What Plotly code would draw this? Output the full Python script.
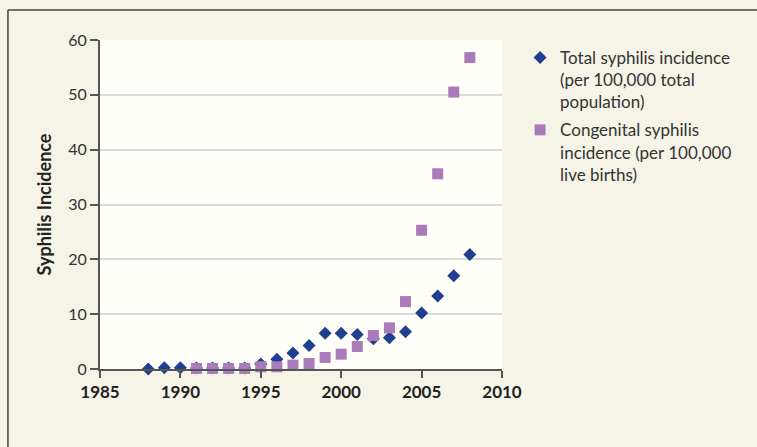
import plotly.graph_objects as go

years_total = list(range(1988, 2009))
total = [0.0, 0.25, 0.25, 0.2, 0.2, 0.2, 0.2, 0.9, 1.8, 2.9, 4.3, 6.5, 6.5, 6.3, 5.5, 5.7, 6.8, 10.2, 13.3, 17.0, 20.9]
years_cong = list(range(1991, 2009))
congenital = [0.1, 0.1, 0.1, 0.1, 0.4, 0.4, 0.7, 1.0, 2.1, 2.7, 4.1, 6.1, 7.5, 12.3, 25.3, 35.6, 50.5, 56.8]

x_ticks = [1985, 1990, 1995, 2000, 2005, 2010]
y_ticks = [0, 10, 20, 30, 40, 50, 60]

font_family = "Lato, Open Sans, sans-serif"

fig = go.Figure()
fig.add_trace(go.Scatter(
    x=years_total, y=total, mode="markers",
    name="Total syphilis incidence<br>(per 100,000 total<br>population)",
    legendgroup="a",
    marker=dict(symbol="diamond", size=10, color="#1f3f8f", line=dict(width=0)),
    cliponaxis=False,
))
fig.add_trace(go.Scatter(
    x=years_cong, y=congenital, mode="markers",
    name="Congenital syphilis<br>incidence (per 100,000<br>live births)",
    legendgroup="b",
    marker=dict(symbol="square", size=11, color="#a97bb8", line=dict(width=0)),
    cliponaxis=False,
))

fig.update_layout(
    width=757, height=447,
    margin=dict(l=100, r=255, t=40, b=78),
    paper_bgcolor="#f6f3e7",
    plot_bgcolor="#fffef9",
    font=dict(family=font_family, size=16, color="#333333"),
    showlegend=True,
    legend=dict(
        x=1.045, y=1.0, xanchor="left", yanchor="top",
        bgcolor="rgba(0,0,0,0)",
        font=dict(size=17, color="#333333"),
        tracegroupgap=3,
        valign="top",
        itemwidth=30,
    ),
    xaxis=dict(
        range=[1985, 2010], tickvals=x_ticks,
        showgrid=False, zeroline=False,
        showline=True, linecolor="#555555", linewidth=2,
        ticks="outside", ticklen=7, tickcolor="#555555", tickwidth=1.5,
        tickfont=dict(family=font_family, size=17, color="#222222", weight="bold"),
    ),
    yaxis=dict(
        range=[0, 60], tickvals=y_ticks,
        showgrid=True, gridcolor="#dadada", gridwidth=2,
        zeroline=False,
        showline=True, linecolor="#555555", linewidth=2,
        ticks="outside", ticklen=8, tickcolor="#555555", tickwidth=1.5,
        tickfont=dict(family=font_family, size=16, color="#333333"),
        title=dict(text="Syphilis Incidence", font=dict(size=18, color="#222222", weight="bold"), standoff=12),
    ),
    shapes=[
        dict(type="line", xref="paper", yref="paper", x0=-0.229, x1=1.7, y0=1.091, y1=1.091,
             line=dict(color="#444444", width=1.5)),
        dict(type="line", xref="paper", yref="paper", x0=-0.229, x1=-0.229, y0=1.091, y1=-0.3,
             line=dict(color="#444444", width=1.5)),
    ],
)

fig.write_html("out.html",
               post_script="document.body.style.margin='0';"
                           "var mb=document.querySelectorAll('.modebar-container');"
                           "mb.forEach(function(e){e.style.display='none';});")
